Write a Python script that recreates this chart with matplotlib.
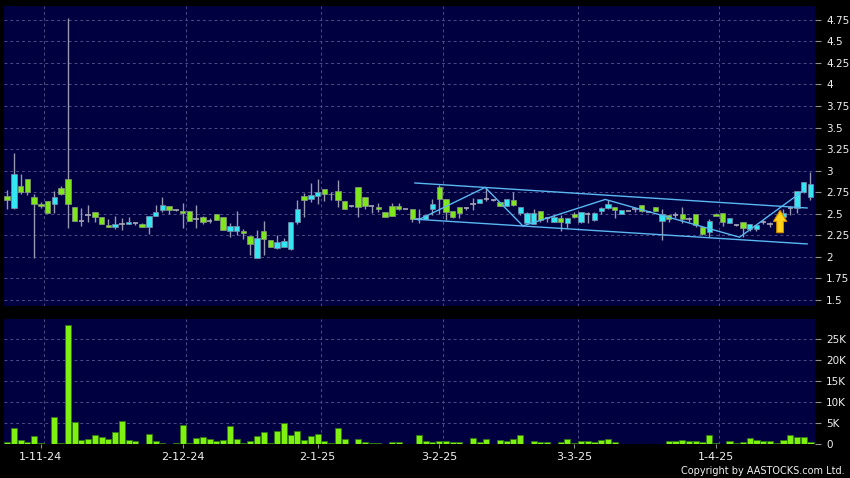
import matplotlib
matplotlib.use('Agg')
import matplotlib.pyplot as plt
import numpy as np
from matplotlib.patches import FancyArrow

# ---------------- data ----------------
opens = [2.71, 2.565, 2.82, 2.90, 2.70, 2.61, 2.646, 2.61, 2.80, 2.90,
         2.577, 2.42, 2.49, 2.52, 2.46, 2.368, 2.345, 2.38, 2.38, 2.39,
         2.38, 2.345, 2.47, 2.54, 2.588, 2.54, 2.535, 2.53, 2.44, 2.46,
         2.42, 2.493, 2.458, 2.304, 2.304, 2.30, 2.246, 1.983, 2.30, 2.19,
         2.099, 2.11, 2.087, 2.408, 2.706, 2.667, 2.71, 2.783, 2.735, 2.76,
         2.65, 2.59, 2.807, 2.698, 2.59, 2.58, 2.516, 2.594, 2.594, 2.55,
         2.55, 2.435, 2.443, 2.55, 2.807, 2.675, 2.532, 2.582, 2.563, 2.61,
         2.62, 2.667, 2.66, 2.64, 2.59, 2.66, 2.513, 2.396, 2.381, 2.536,
         2.447, 2.408, 2.455, 2.389, 2.497, 2.404, 2.497, 2.424, 2.536, 2.571,
         2.574, 2.50, 2.536, 2.55, 2.60, 2.525, 2.583, 2.417, 2.48, 2.48,
         2.50, 2.436, 2.50, 2.35, 2.285, 2.50, 2.509, 2.393, 2.373, 2.404,
         2.323, 2.323, 2.40, 2.385, 2.42, 2.46, 2.567, 2.567, 2.752, 2.70]
highs = [2.78, 3.20, 2.96, 2.90, 2.73, 2.64, 2.646, 2.76, 2.82, 4.77,
         2.577, 2.565, 2.60, 2.52, 2.46, 2.44, 2.47, 2.45, 2.46, 2.41,
         2.39, 2.476, 2.60, 2.69, 2.588, 2.56, 2.63, 2.53, 2.60, 2.475,
         2.45, 2.50, 2.458, 2.39, 2.53, 2.32, 2.246, 2.31, 2.416, 2.19,
         2.25, 2.22, 2.41, 2.66, 2.737, 2.853, 2.903, 2.783, 2.75, 2.89,
         2.65, 2.60, 2.807, 2.698, 2.59, 2.62, 2.516, 2.62, 2.63, 2.55,
         2.55, 2.55, 2.485, 2.667, 2.834, 2.675, 2.532, 2.582, 2.58, 2.68,
         2.667, 2.814, 2.67, 2.64, 2.667, 2.756, 2.582, 2.52, 2.55, 2.536,
         2.45, 2.485, 2.485, 2.447, 2.52, 2.524, 2.52, 2.52, 2.58, 2.66,
         2.58, 2.54, 2.536, 2.57, 2.60, 2.525, 2.583, 2.55, 2.485, 2.52,
         2.58, 2.46, 2.50, 2.36, 2.435, 2.51, 2.509, 2.45, 2.38, 2.404,
         2.381, 2.373, 2.43, 2.40, 2.44, 2.55, 2.585, 2.76, 2.868, 2.99]
lows = [2.55, 2.56, 2.73, 2.72, 1.985, 2.565, 2.507, 2.507, 2.72, 2.333,
        2.418, 2.36, 2.41, 2.41, 2.38, 2.345, 2.325, 2.31, 2.38, 2.37,
        2.345, 2.267, 2.47, 2.52, 2.50, 2.53, 2.333, 2.42, 2.33, 2.385,
        2.39, 2.427, 2.31, 2.234, 2.25, 2.207, 2.02, 1.983, 2.02, 2.11,
        2.09, 2.11, 2.075, 2.38, 2.458, 2.64, 2.61, 2.65, 2.66, 2.58,
        2.55, 2.58, 2.458, 2.56, 2.505, 2.52, 2.458, 2.478, 2.54, 2.55,
        2.41, 2.39, 2.443, 2.485, 2.497, 2.427, 2.45, 2.447, 2.545, 2.54,
        2.62, 2.65, 2.65, 2.59, 2.59, 2.59, 2.49, 2.39, 2.381, 2.41,
        2.41, 2.408, 2.30, 2.33, 2.45, 2.39, 2.39, 2.42, 2.50, 2.55,
        2.45, 2.50, 2.536, 2.52, 2.525, 2.525, 2.537, 2.20, 2.41, 2.45,
        2.39, 2.40, 2.35, 2.25, 2.235, 2.47, 2.354, 2.393, 2.36, 2.23,
        2.30, 2.30, 2.38, 2.35, 2.40, 2.45, 2.49, 2.51, 2.74, 2.66]
closes = [2.66, 2.96, 2.755, 2.75, 2.61, 2.59, 2.507, 2.70, 2.73, 2.61,
          2.418, 2.42, 2.49, 2.457, 2.38, 2.345, 2.38, 2.38, 2.407, 2.39,
          2.345, 2.476, 2.52, 2.60, 2.54, 2.54, 2.507, 2.42, 2.44, 2.41,
          2.42, 2.427, 2.31, 2.358, 2.358, 2.273, 2.145, 2.222, 2.203, 2.11,
          2.176, 2.18, 2.40, 2.55, 2.66, 2.718, 2.752, 2.725, 2.725, 2.66,
          2.55, 2.59, 2.582, 2.59, 2.59, 2.55, 2.458, 2.478, 2.55, 2.55,
          2.435, 2.435, 2.485, 2.61, 2.675, 2.524, 2.466, 2.505, 2.563, 2.61,
          2.667, 2.667, 2.66, 2.59, 2.667, 2.598, 2.582, 2.505, 2.505, 2.427,
          2.447, 2.458, 2.40, 2.447, 2.458, 2.52, 2.497, 2.505, 2.563, 2.61,
          2.543, 2.54, 2.536, 2.55, 2.535, 2.525, 2.537, 2.495, 2.436, 2.48,
          2.44, 2.436, 2.37, 2.27, 2.42, 2.475, 2.404, 2.45, 2.373, 2.335,
          2.381, 2.373, 2.40, 2.385, 2.42, 2.51, 2.567, 2.76, 2.868, 2.845]
volumes_k = [0.56, 3.77, 0.88, 0.56, 1.84, 0.3, 0.05, 6.33, 0.3, 28.4,
             5.3, 1.04, 1.28, 2.08, 1.6, 1.2, 2.96, 5.5, 1.04, 0.64,
             0.0, 2.48, 0.64, 0.3, 0.05, 0.24, 4.4, 0.15, 1.36, 1.68,
             1.28, 0.72, 0.96, 4.25, 1.2, 0.24, 0.8, 1.92, 2.96, 0.24,
             3.2, 4.97, 2.2, 3.2, 0.95, 2.0, 2.4, 0.63, 0.3, 3.7,
             1.2, 0.05, 1.27, 0.55, 0.3, 0.3, 0.0, 0.48, 0.48, 0.0,
             0.0, 2.06, 0.8, 0.55, 0.63, 0.63, 0.48, 0.4, 0.0, 1.43,
             0.48, 1.1, 0.0, 0.95, 0.7, 1.27, 2.2, 0.0, 0.8, 0.48,
             0.48, 0.0, 0.48, 1.27, 0.3, 0.63, 0.7, 0.4, 0.95, 1.2,
             0.4, 0.05, 0.05, 0.05, 0.05, 0.05, 0.05, 0.05, 0.8, 0.8,
             0.95, 0.8, 0.8, 0.4, 2.2, 0.3, 0.0, 0.8, 0.3, 0.48,
             1.35, 0.95, 0.63, 0.63, 0.3, 0.87, 2.06, 1.75, 1.75, 0.4]
date_tick_idx = [5, 26, 46, 64, 84, 105]
date_tick_labels = ['1-11-24', '2-12-24', '2-1-25', '3-2-25', '3-3-25', '1-4-25']
price_ticks = [1.5, 1.75, 2.0, 2.25, 2.5, 2.75, 3.0, 3.25, 3.5, 3.75, 4.0, 4.25, 4.5, 4.75]
price_tick_labels = ['1.5', '1.75', '2', '2.25', '2.5', '2.75', '3', '3.25', '3.5',
                     '3.75', '4', '4.25', '4.5', '4.75']
vol_ticks_k = [0, 5, 10, 15, 20, 25]
vol_tick_labels = ['0', '5K', '10K', '15K', '20K', '25K']
# user drawn trend annotations (candle index, price)
channel_upper_x = [60.4, 118.5]
channel_upper_y = [2.857, 2.567]
channel_lower_x = [60.4, 118.5]
channel_lower_y = [2.437, 2.15]
zigzag_x = [60.9, 70.8, 76.4, 88.6, 108.5, 117.9]
zigzag_y = [2.429, 2.806, 2.359, 2.666, 2.228, 2.765]
arrow_x, arrow_base, arrow_tip = 114.5, 2.28, 2.54

# ---------------- style ----------------
BG = '#000040'
GRID = '#4c4c86'
UP = '#33e6f2'
DOWN = '#7fe61e'
WICK = '#9898b0'
TXT = '#f0f0f0'

fig = plt.figure(figsize=(8.5, 4.78), dpi=100, facecolor='black')
ax = fig.add_axes([4 / 850, 1 - 306 / 478, 811 / 850, 300 / 478])
axv = fig.add_axes([4 / 850, 1 - 444 / 478, 811 / 850, 125 / 478])

n = len(opens)
x = np.arange(n)
o = np.array(opens)
c = np.array(closes)
h = np.array(highs)
l = np.array(lows)

xlim = (-0.47, 119.67)
for a in (ax, axv):
    a.set_facecolor(BG)
    a.set_xlim(*xlim)
    for s in a.spines.values():
        s.set_visible(False)
    for gx in date_tick_idx:
        a.axvline(gx + 0.5, color=GRID, lw=0.7, ls=(0, (3, 3)), zorder=1)

ax.set_ylim(1.43, 4.91)
for p in price_ticks:
    ax.axhline(p, color=GRID, lw=0.7, ls=(0, (3, 3)), zorder=1)

# wicks
ax.vlines(x, l, h, color=WICK, lw=1.0, zorder=2)
# bodies
w = 0.8
up = c > o
dn = c < o
eq = c == o
ax.bar(x[up], (c - o)[up], bottom=o[up], width=w, color=UP,
       edgecolor='#7a8ca8', linewidth=0.5, zorder=3)
ax.bar(x[dn], (o - c)[dn], bottom=c[dn], width=w, color=DOWN,
       edgecolor='#8a9a80', linewidth=0.5, zorder=3)
ax.hlines(c[eq], x[eq] - w / 2, x[eq] + w / 2, color='#a8a8b8', lw=1.2, zorder=3)

# annotations
tl = '#5ab8f0'
ax.plot(channel_upper_x, channel_upper_y, color=tl, lw=1.0, zorder=4)
ax.plot(channel_lower_x, channel_lower_y, color=tl, lw=1.0, zorder=4)
ax.plot(zigzag_x, zigzag_y, color=tl, lw=1.0, zorder=4)
ax.add_patch(FancyArrow(arrow_x, arrow_base, 0, arrow_tip - arrow_base,
                        width=1.0, head_width=2.0, head_length=0.13,
                        length_includes_head=True, facecolor='#ffd21a',
                        edgecolor='#d08a00', linewidth=0.8, zorder=5))

ax.yaxis.tick_right()
ax.set_yticks(price_ticks)
ax.set_yticklabels(price_tick_labels)
ax.tick_params(axis='y', colors='#909090', labelcolor=TXT, length=4, width=0.8,
               pad=4, labelsize=7.5)
ax.set_xticks([])

# volume
axv.set_ylim(-0.03, 29.9)
for vt in vol_ticks_k[1:]:
    axv.axhline(vt, color=GRID, lw=0.7, ls=(0, (3, 3)), zorder=1)
axv.bar(x, volumes_k, width=0.9, color='#80f010', edgecolor='#2e7a12',
        linewidth=0.6, zorder=3)
axv.yaxis.tick_right()
axv.set_yticks(vol_ticks_k)
axv.set_yticklabels(vol_tick_labels)
axv.tick_params(axis='y', colors='#909090', labelcolor=TXT, length=4, width=0.8,
                pad=4, labelsize=7.5)
axv.set_xticks(date_tick_idx)
axv.set_xticklabels(date_tick_labels)
axv.tick_params(axis='x', colors='#909090', labelcolor=TXT, length=3, width=0.8,
                pad=3, labelsize=8)

fig.text(845 / 850, 1 - 471 / 478, 'Copyright by AASTOCKS.com Ltd.', color=TXT,
         fontsize=7, ha='right', va='center')

fig.savefig('out.png', dpi=100, facecolor='black')
